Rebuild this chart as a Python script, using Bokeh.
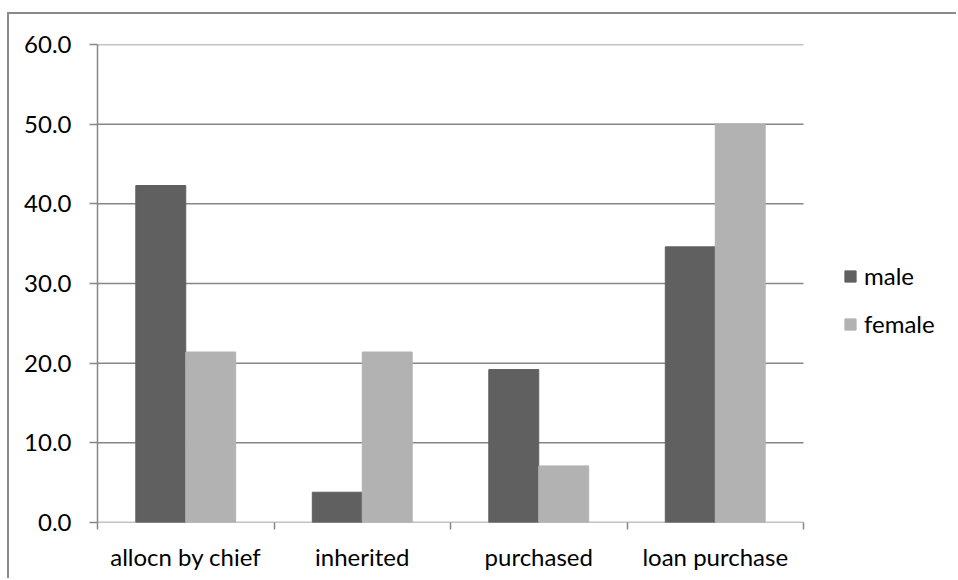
from bokeh.plotting import figure
from bokeh.models import ColumnDataSource, FixedTicker, Range1d, Legend, LegendItem
from bokeh.embed import file_html
from bokeh.resources import INLINE

categories = ["allocn by chief", "inherited", "purchased", "loan purchase"]
male = [42.3, 3.8, 19.2, 34.6]
female = [21.4, 21.4, 7.1, 50.0]
y_ticks = [0, 10, 20, 30, 40, 50, 60]

FONT = "Lato"
FS = "24px"
GRID = "#868686"

n = len(categories)
centers = [i + 0.5 for i in range(n)]
bw = 0.283
src = ColumnDataSource(dict(
    xm=[c - bw / 2 for c in centers],
    xf=[c + bw / 2 for c in centers],
    male=male, female=female,
))

# plot area spans 706px for the categories; extra room on the right holds the legend
x_end = n * 861 / 706
p = figure(width=949, height=566, output_backend="svg", toolbar_location=None,
           x_range=Range1d(0, x_end), y_range=Range1d(0, 60),
           min_border_left=88, min_border_right=0, min_border_top=30,
           min_border_bottom=58)
p.margin = (12, 0, 0, 7)
p.styles = {"border-left": "2px solid #8a8a8a", "border-top": "2px solid #8a8a8a"}
p.outline_line_color = None
p.background_fill_color = "white"
p.grid.visible = False

# gridlines across the category area only
p.segment(x0=[0] * len(y_ticks), x1=[n] * len(y_ticks), y0=y_ticks, y1=y_ticks,
          line_color=GRID, line_width=1.5)

rm = p.vbar(x="xm", top="male", width=bw, source=src, fill_color="#606060", line_color="#606060")
rf = p.vbar(x="xf", top="female", width=bw, source=src, fill_color="#b2b2b2", line_color="#b2b2b2")

# axes
p.yaxis.ticker = FixedTicker(ticks=y_ticks)
p.yaxis.major_label_overrides = {t: f"{t:.1f}" for t in y_ticks}
p.yaxis.minor_tick_line_color = None
p.yaxis.major_tick_in = 0
p.yaxis.major_tick_out = 8
p.yaxis.axis_line_color = GRID
p.yaxis.axis_line_width = 1.5
p.yaxis.major_tick_line_color = GRID
p.yaxis.major_tick_line_width = 1.5
p.yaxis.major_label_standoff = 18

p.xaxis.ticker = FixedTicker(ticks=centers, minor_ticks=list(range(n + 1)))
p.xaxis.major_label_overrides = {c: name for c, name in zip(centers, categories)}
p.xaxis.major_tick_line_color = None
p.xaxis.minor_tick_line_color = GRID
p.xaxis.minor_tick_line_width = 1.5
p.xaxis.minor_tick_in = 0
p.xaxis.minor_tick_out = 7
p.xaxis.axis_line_color = None
p.xaxis.major_label_standoff = 12

for ax in (p.xaxis[0], p.yaxis[0]):
    ax.major_label_text_font = FONT
    ax.major_label_text_font_size = FS
    ax.major_label_text_color = "black"

legend = Legend(items=[LegendItem(label="male", renderers=[rm]),
                       LegendItem(label="female", renderers=[rf])],
                location=(746, 184), orientation="vertical")
legend.label_text_font = FONT
legend.label_text_font_size = FS
legend.label_text_color = "black"
legend.glyph_width = 14
legend.glyph_height = 14
legend.spacing = 19
legend.label_standoff = 7
legend.border_line_color = None
legend.background_fill_alpha = 0
legend.padding = 0
legend.margin = 0
p.add_layout(legend, "center")

open("out.html", "w").write(file_html(p, INLINE))
